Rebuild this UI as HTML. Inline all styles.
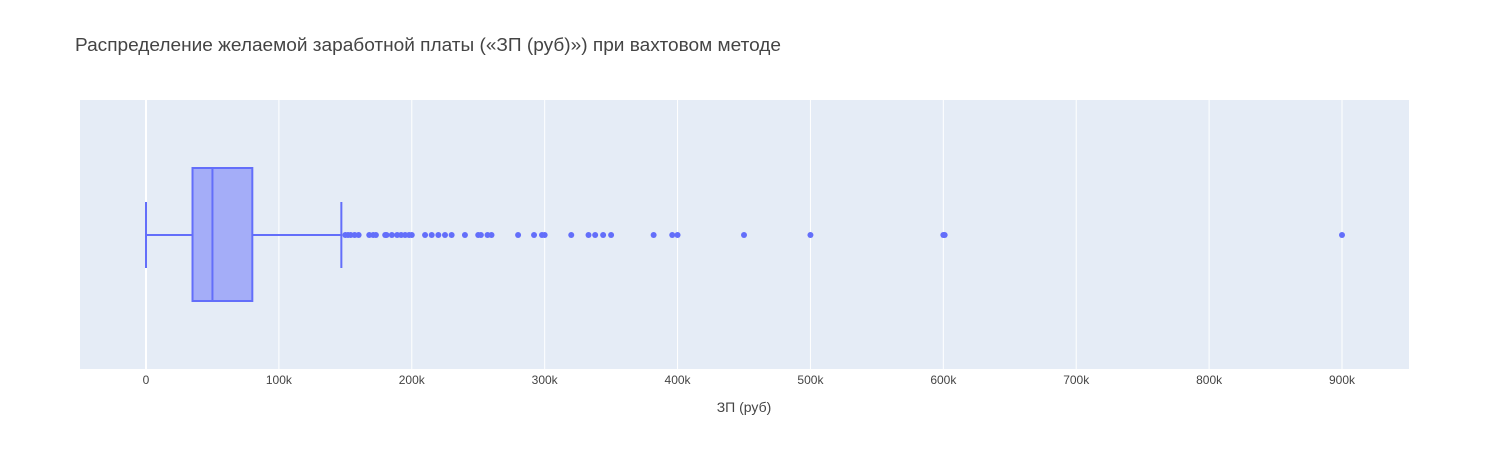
<!DOCTYPE html>
<html><head><meta charset="utf-8"><style>
body{margin:0;background:#fff;font-family:"Liberation Sans",sans-serif}
svg text{font-family:"Liberation Sans",sans-serif}
</style></head><body>
<svg id="c" width="1489" height="450">
<rect width="1489" height="450" fill="#fff"/>
<text x="75" y="51" font-size="18" fill="#444" textLength="706" lengthAdjust="spacingAndGlyphs">Распределение желаемой заработной платы («ЗП (руб)») при вахтовом методе</text>
<rect x="80" y="100" width="1329" height="269" fill="#e5ecf6"/>
<g id="grid"></g><g id="box"></g><g id="pts"></g>
<text x="744" y="412" font-size="14" fill="#444" text-anchor="middle">ЗП (руб)</text>
</svg>
<script>
const ticks=[0,100,200,300,400,500,600,700,800,900];
const tickLabels=["0","100k","200k","300k","400k","500k","600k","700k","800k","900k"];
const boxStats=[0,35,50,80,147];
const outliers=[150,152,154,157,160,168,171,173,180,181,185,189,192,195,198,200,210,215,220,225,230,240,250,252,257,260,280,292,298,300,320,333,338,344,350,382,396,400,450,500,600,601,900];
const NS="http://www.w3.org/2000/svg";
const xs=v=>146+v*(1342-146)/900;
function mk(t,a,p){const e=document.createElementNS(NS,t);for(const k in a)e.setAttribute(k,a[k]);p.appendChild(e);return e;}
const g=document.getElementById('grid');
ticks.forEach((t,i)=>{
 const l=mk('line',{x1:xs(t),x2:xs(t),y1:100,y2:369,stroke:'#fff','stroke-width':t===0?2:1},g);
 
 
 const tx=mk('text',{x:xs(t),y:384,'font-size':12,fill:'#444','text-anchor':'middle'},g);
 tx.textContent=tickLabels[i];
 
 
});
const b=document.getElementById('box');
const [mn,q1,md,q3,mx]=boxStats;
const c='#636efa';
let e=mk('rect',{x:xs(q1),y:168,width:xs(q3)-xs(q1),height:133,fill:'rgba(99,110,250,0.5)',stroke:c,'stroke-width':2},b);


e=mk('line',{x1:xs(md),x2:xs(md),y1:168,y2:301,stroke:c,'stroke-width':2},b);


e=mk('path',{d:`M${xs(mn)},235H${xs(q1)}M${xs(q3)},235H${xs(mx)}M${xs(mn)},202V268M${xs(mx)},202V268`,stroke:c,'stroke-width':2,fill:'none'},b);


const p=document.getElementById('pts');
outliers.forEach(v=>{
 const o=mk('circle',{cx:xs(v),cy:235,r:3,fill:c},p);
 
 
});
</script>
</body></html>
